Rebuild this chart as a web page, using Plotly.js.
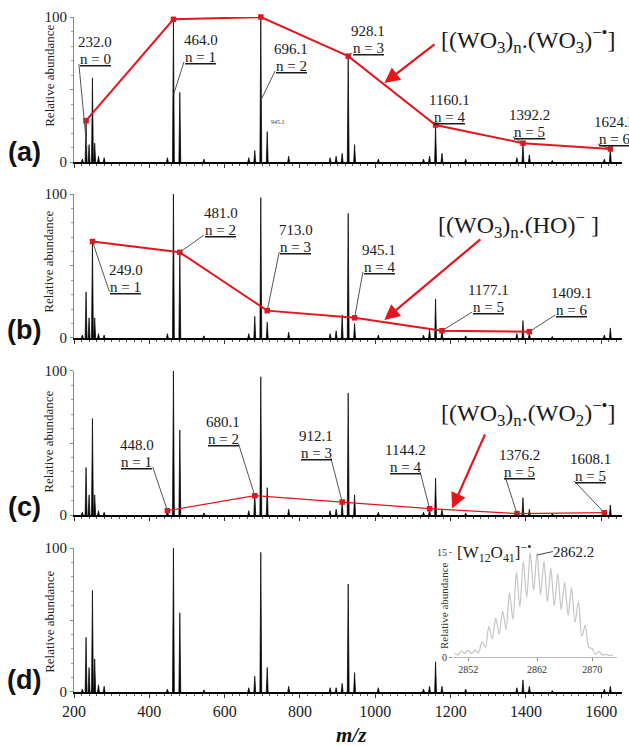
<!DOCTYPE html>
<html><head><meta charset="utf-8">
<script src="https://cdn.plot.ly/plotly-3.0.1.min.js"></script>
<style>html,body{margin:0;padding:0;background:#fff}#chart{width:629px;height:746px}</style>
</head><body><div id="chart"></div>
<script>
// ---------- DATA ----------
const peakMz = [222, 232, 240, 249, 255, 265, 280, 448, 464, 481, 545, 664, 680, 696, 713, 770, 880, 896, 912, 928, 945, 1008, 1128, 1144, 1160, 1177, 1240, 1376, 1392, 1409, 1470, 1608, 1624];
const peaksA = [2, 28, 12, 58, 13, 4, 3, 3, 98, 48, 2, 3, 8, 100, 21, 4, 3, 4, 6, 73, 12, 2, 2, 4, 25.5, 6, 2, 3, 13, 5, 1, 2, 9];
const peaksB = [2, 32, 14, 67, 14, 3, 2, 3, 100, 60, 1.5, 3, 15, 97.5, 11, 4, 3, 5, 16, 86.6, 10, 2, 2, 6, 27, 5, 1.5, 3, 12, 4, 1, 2, 7];
const peaksC = [2, 33, 14, 67, 14, 3, 2, 3, 100, 59, 1.5, 3, 15, 96, 19, 4, 3, 4, 9, 84.6, 14, 2, 2, 4, 25.6, 4, 1.5, 2, 12, 4, 1, 2, 7];
const peaksD = [2, 38, 17, 70.6, 23, 5, 4, 2, 100, 55, 1.5, 3, 11, 97, 17, 4, 3, 3, 6, 75, 13.5, 3, 2, 4, 21, 4, 2, 3, 8.4, 4, 1, 2, 4];

const seriesAmz = [232.0, 464.0, 696.1, 928.1, 1160.1, 1392.2, 1624.2];
const seriesAval = [28.5, 98.4, 100, 73, 25.5, 13, 9];
const seriesAn = ['0', '1', '2', '3', '4', '5', '6'];
const seriesBmz = [249.0, 481.0, 713.0, 945.1, 1177.1, 1409.1];
const seriesBval = [67, 59.5, 19, 14, 5, 4.4];
const seriesBn = ['1', '2', '3', '4', '5', '6'];
const seriesCmz = [448.0, 680.1, 912.1, 1144.2, 1376.2, 1608.1];
const seriesCval = [3, 13.4, 9, 4.4, 1, 1.6];
const seriesCn = ['1', '2', '3', '4', '5', '5'];

const insetMz = [2850.0,2850.5,2851.0,2851.5,2852.0,2852.5,2853.0,2853.5,2854.0,2854.5,2855.0,2855.5,2856.0,2856.5,2857.0,2857.5,2858.0,2858.5,2859.0,2859.5,2860.0,2860.5,2861.0,2861.5,2862.0,2862.5,2863.0,2863.5,2864.0,2864.5,2865.0,2865.5,2866.0,2866.5,2867.0,2867.5,2868.0,2868.5,2869.0,2869.5,2870.0,2870.5,2871.0,2871.5,2872.0,2872.5,2873.0];
const insetAb = [0.5,0.3,0.9,0.5,1.0,0.5,1.0,0.6,2.2,1.4,4.4,2.6,5.6,3.3,6.6,4.0,9.2,5.4,12.2,7.2,13.8,8.6,15.0,9.6,15.0,9.0,13.8,8.0,12.8,7.4,12.0,6.8,10.8,6.0,10.0,5.0,8.0,3.0,4.6,1.4,1.2,0.4,0.8,0.3,0.4,0.2,0.3];

const xTickVals = [200, 400, 600, 800, 1000, 1200, 1400, 1600];
const insetTicks = [2852, 2862, 2870];

// ---------- LAYOUT HELPERS (label placement, not data) ----------
// [centerX, underlineY, lineStartX, lineStartY, targetX, targetY]
const labelPosA = [[257,67.6,213,67.6,234,10],[536,69,492,69,465,47],[777,62.8,734,62.8,697,43],[981,75.2,939,75.2,928.1,73],[1198,27.6,1154,27.6,1160.1,25.5],[1409,17.5,1365,17.5,1392.2,13],[1634,12.4,1591,12.4,1624.2,9]];
const labelPosB = [[338,32.2,294,32.2,249,67],[590,71.5,545,71.5,481,59.5],[789,59.7,745,59.7,713,19],[1010,45.8,967,45.8,945.1,14],[1300,18,1257,18,1177.1,5],[1520,16,1478,16,1409.1,4.4]];
const labelPosC = [[367,33.3,409,33.3,448,3],[596,49.3,637,49.3,680.1,13.4],[843,39.6,882,39.6,912.1,9],[1080,29.9,1119,29.9,1144.2,4.4],[1383,26.4,1345,26.4,1376.2,1],[1572,23.6,1528,23.6,1608.1,1.6]];

const RED = '#e3161d';
const SERIF = 'Liberation Serif';
const HW = 2.5;

function stickTrace(mz, h, xa, ya) {
  const x = [], y = [];
  mz.forEach((m, i) => { x.push(m - HW, m, m + HW, null); y.push(0, h[i], 0, null); });
  return {type:'scatter', mode:'lines', x, y, fill:'toself', fillcolor:'#000',
          line:{color:'#000', width:0.7}, xaxis:xa, yaxis:ya, hoverinfo:'skip', showlegend:false};
}
function redTrace(mz, v, xa, ya, w) {
  return {type:'scatter', mode:'lines+markers', x:mz, y:v, xaxis:xa, yaxis:ya,
          line:{color:RED, width:w}, marker:{color:RED, size:5.5, symbol:'square'},
          hoverinfo:'skip', showlegend:false, cliponaxis:false};
}

const traces = [
  stickTrace(peakMz, peaksA, 'x2', 'y2'),
  stickTrace(peakMz, peaksB, 'x3', 'y3'),
  stickTrace(peakMz, peaksC, 'x4', 'y4'),
  stickTrace(peakMz, peaksD, 'x', 'y'),
  redTrace(seriesAmz, seriesAval, 'x2', 'y2', 2),
  redTrace(seriesBmz, seriesBval, 'x3', 'y3', 2),
  redTrace(seriesCmz, seriesCval, 'x4', 'y4', 1.2),
  {type:'scatter', mode:'lines', x:insetMz, y:insetAb, xaxis:'x5', yaxis:'y5',
   line:{color:'#c4c4c4', width:1.2, shape:'spline', smoothing:0.8}, hoverinfo:'skip', showlegend:false}
];

const annotations = [];
const shapes = [];
function addLabels(mz, n, pos, xr, yr) {
  mz.forEach((m, i) => {
    const p = pos[i];
    annotations.push({xref:xr, yref:yr, x:p[0], y:p[1], xanchor:'center', yanchor:'bottom', showarrow:false,
      text:'<u>n = ' + n[i] + '</u>', font:{family:SERIF, size:15, color:'#1a1a1a'}, borderpad:0, borderwidth:0, yshift:-3});
    annotations.push({xref:xr, yref:yr, x:p[0], y:p[1], xanchor:'center', yanchor:'bottom', showarrow:false,
      text:m.toFixed(1), font:{family:SERIF, size:15, color:'#1a1a1a'}, borderpad:0, borderwidth:0, yshift:14});
    shapes.push({type:'line', xref:xr, yref:yr, x0:p[2], y0:p[3], x1:p[4], y1:p[5], line:{color:'#555', width:1}});
  });
}
addLabels(seriesAmz, seriesAn, labelPosA, 'x2', 'y2');
addLabels(seriesBmz, seriesBn, labelPosB, 'x3', 'y3');
addLabels(seriesCmz, seriesCn, labelPosC, 'x4', 'y4');

// formulas
const fFont = {family:SERIF, size:24, color:'#1a1a1a'};
annotations.push({xref:'x2', yref:'y2', x:1406, y:84, showarrow:false, font:fFont,
  text:'[(WO<sub>3</sub>)<sub>n</sub>.(WO<sub>3</sub>)<sup>−•</sup>]'});
annotations.push({xref:'x3', yref:'y3', x:1379, y:78.5, showarrow:false, font:fFont,
  text:'[(WO<sub>3</sub>)<sub>n</sub>.(HO)<sup>−</sup> ]'});
annotations.push({xref:'x4', yref:'y4', x:1406, y:71, showarrow:false, font:fFont,
  text:'[(WO<sub>3</sub>)<sub>n</sub>.(WO<sub>2</sub>)<sup>−•</sup>]'});
// red arrows
[['x2','y2',1024,54.5,1161,82],['x3','y3',1024,12.5,1283,69.4],['x4','y4',1204,4.6,1293,57]].forEach(a => {
  annotations.push({xref:a[0], yref:a[1], axref:a[0], ayref:a[1], x:a[2], y:a[3], ax:a[4], ay:a[5],
    text:'', showarrow:true, arrowhead:2, arrowsize:1.4, arrowwidth:2.2, arrowcolor:RED});
});
// tiny label
annotations.push({xref:'x2', yref:'y2', x:742, y:27.6, showarrow:false, text:'945.1', font:{family:SERIF, size:6, color:'#333'}});

// panel letters and y titles
const letters = [['(a)',0.7918,0.9032],['(b)',0.5308,0.6305],['(c)',0.2713,0.3666],['(d)',0.0176,0.1026]];
letters.forEach(l => {
  annotations.push({xref:'paper', yref:'paper', x:-0.0912, y:l[1], xanchor:'center', yanchor:'middle', showarrow:false,
    text:'<b>' + l[0] + '</b>', font:{family:'Liberation Sans', size:27, color:'#111'}});
  annotations.push({xref:'paper', yref:'paper', x:-0.046, y:l[2], xanchor:'center', yanchor:'middle', showarrow:false,
    textangle:-90, text:'Relative abundance', font:{family:SERIF, size:13, color:'#222'}});
});
annotations.push({xref:'paper', yref:'paper', x:0.507, y:-0.063, xanchor:'center', yanchor:'middle', showarrow:false,
  text:'<b><i>m/z</i></b>', font:{family:SERIF, size:21, color:'#111'}});

// inset texts
annotations.push({xref:'x5', yref:'y5', x:2855.8, y:15, xanchor:'center', yanchor:'middle', showarrow:false,
  text:'[W<sub>12</sub>O<sub>41</sub>]<sup>−•</sup>', font:{family:SERIF, size:17, color:'#222'}});
annotations.push({xref:'x5', yref:'y5', x:2867.3, y:15.1, xanchor:'center', yanchor:'middle', showarrow:false,
  text:'2862.2', font:{family:SERIF, size:15, color:'#222'}});
shapes.push({type:'line', xref:'x5', yref:'y5', x0:2862.0, y0:14.7, x1:2864.3, y1:15.2, line:{color:'#444', width:1}});
annotations.push({xref:'paper', yref:'paper', x:(444-74)/548, y:(692-606)/682, xanchor:'center', yanchor:'middle',
  showarrow:false, textangle:-90, text:'Relative abundance', font:{family:SERIF, size:11, color:'#333'}});

function xAxis(anchor, labels) {
  return {anchor, range:[200,1655], showline:true, linecolor:'#000', linewidth:2, ticks:'outside', ticklen:4,
    tickcolor:'#333', tickwidth:1, tickmode:'array', tickvals:xTickVals, showticklabels:labels,
    tickfont:{family:SERIF, size:16, color:'#222'}, showgrid:false, zeroline:false,
    minor:{tickmode:'linear', tick0:200, dtick:20, ticks:'outside', ticklen:2, tickcolor:'#555', showgrid:false}};
}
function yAxis(anchor, dom) {
  return {anchor, domain:dom, range:[0,100], showline:true, linecolor:'#888', linewidth:1, ticks:'outside',
    ticklen:3, tickcolor:'#888', tickmode:'array', tickvals:[0,50,100], ticktext:['0','','100'],
    tickfont:{family:SERIF, size:15, color:'#222'}, showgrid:false, zeroline:false,
    minor:{tickmode:'linear', tick0:0, dtick:10, ticks:'outside', ticklen:2, tickcolor:'#999', showgrid:false}};
}

const layout = {
  width:629, height:746, margin:{l:74, r:7, t:10, b:54},
  paper_bgcolor:'#fff', plot_bgcolor:'rgba(0,0,0,0)', showlegend:false, hovermode:false,
  xaxis:xAxis('y', true), xaxis2:xAxis('y2', false), xaxis3:xAxis('y3', false), xaxis4:xAxis('y4', false),
  yaxis:yAxis('x', [0, 0.2111]), yaxis2:yAxis('x2', [0.7771, 0.9897]),
  yaxis3:yAxis('x3', [0.5191, 0.7302]), yaxis4:yAxis('x4', [0.2595, 0.4707]),
  xaxis5:{anchor:'y5', domain:[0.6916, 0.9909], range:[2849.8, 2873.6], showline:true, linecolor:'#bbb', linewidth:1,
    ticks:'outside', ticklen:3, tickcolor:'#888', tickmode:'array', tickvals:insetTicks,
    tickfont:{family:SERIF, size:10, color:'#333'}, showgrid:false, zeroline:false},
  yaxis5:{anchor:'x5', domain:[0.0513, 0.209], range:[0, 15.5], showline:false, ticks:'outside', ticklen:3,
    tickcolor:'#888', tickmode:'array', tickvals:[0,15], tickfont:{family:SERIF, size:10, color:'#333'},
    showgrid:false, zeroline:false},
  annotations, shapes
};

Plotly.newPlot('chart', traces, layout, {staticPlot:true, displayModeBar:false});
</script></body></html>
